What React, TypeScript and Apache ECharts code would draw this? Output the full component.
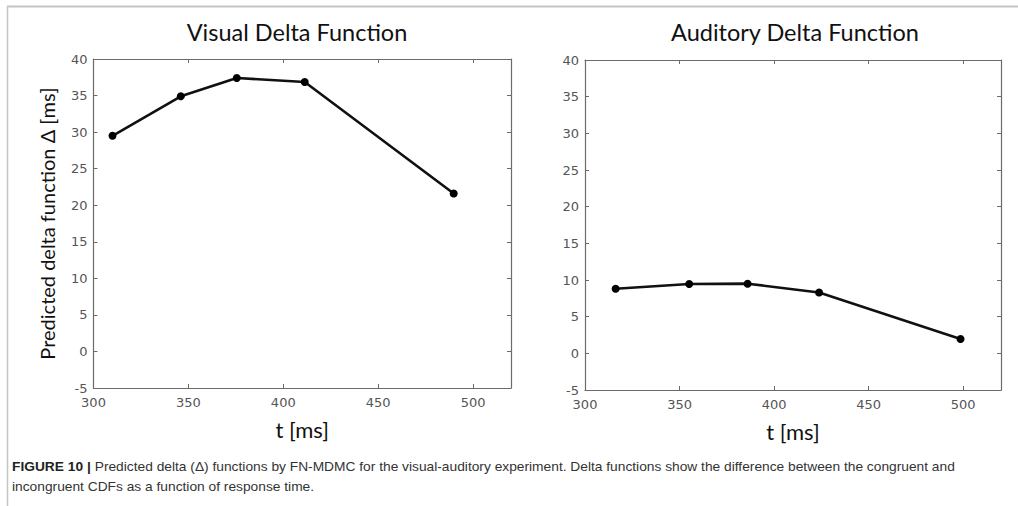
import React, { useEffect, useRef } from "react";
import * as echarts from "echarts";

// Response time (ms) and predicted delta (ms) for each modality
const visualT = [310, 346, 375.5, 411.3, 489.8];
const visualDelta = [29.5, 34.9, 37.4, 36.85, 21.6];
const auditoryT = [316.2, 355.1, 386, 423.8, 498.6];
const auditoryDelta = [8.8, 9.45, 9.5, 8.3, 1.95];

const titles = ["Visual Delta Function", "Auditory Delta Function"];
const xName = "t [ms]";
const yName = "Predicted delta function \u0394 [ms]";
const captionBold = "FIGURE 10 | ";
const captionLine1 =
  "Predicted delta (\u0394) functions by FN-MDMC for the visual-auditory experiment. Delta functions show the difference between the congruent and";
const captionLine2 = "incongruent CDFs as a function of response time.";

const X_MIN = 300;
const X_MAX = 520;
const X_STEP = 50;
const Y_MIN = -5;
const Y_MAX = 40;
const Y_STEP = 5;

const AXIS_COLOR = "#6b6b6b";
const LABEL_COLOR = "#555";
const TICK_FONT = "DejaVu Sans";
const TITLE_FONT = "Lato";
const CAPTION_FONT = "Liberation Sans";
const CAPTION_SCALE = 1.06;

function zip(xs: number[], ys: number[]) {
  return xs.map((x, i) => [x, ys[i]]);
}

export default function App() {
  const ref = useRef<HTMLDivElement>(null);

  useEffect(() => {
    if (!ref.current) return;
    const chart = echarts.init(ref.current, null, { renderer: "svg" });

    const grids = [
      { left: 93.5, top: 59, width: 417.5, height: 329 },
      { left: 585, top: 60, width: 416, height: 330 },
    ];

    const edgeLine = { show: true, onZero: false, lineStyle: { color: AXIS_COLOR, width: 1.2 } };
    const innerTick = { show: true, inside: true, length: 4, lineStyle: { color: AXIS_COLOR } };

    const xAxes: any[] = [];
    const yAxes: any[] = [];
    grids.forEach((_, gi) => {
      // bottom axis with labels
      xAxes.push({
        type: "value",
        gridIndex: gi,
        position: "bottom",
        min: X_MIN,
        max: X_MAX,
        interval: X_STEP,
        name: xName,
        nameLocation: "middle",
        nameGap: 30,
        nameTextStyle: { fontFamily: TITLE_FONT, fontSize: 22, color: "#111" },
        axisLine: edgeLine,
        axisTick: innerTick,
        axisLabel: {
          show: true,
          showMaxLabel: false,
          margin: 8,
          fontFamily: TICK_FONT,
          fontSize: 13,
          color: LABEL_COLOR,
        },
        splitLine: { show: false },
      });
      // top edge of the box
      xAxes.push({
        type: "value",
        gridIndex: gi,
        position: "top",
        min: X_MIN,
        max: X_MAX,
        interval: X_STEP,
        axisLine: edgeLine,
        axisTick: innerTick,
        axisLabel: { show: false },
        splitLine: { show: false },
      });
      // left axis with labels
      yAxes.push({
        type: "value",
        gridIndex: gi,
        position: "left",
        min: Y_MIN,
        max: Y_MAX,
        interval: Y_STEP,
        name: gi === 0 ? yName : "",
        nameLocation: "middle",
        nameGap: 37,
        nameTextStyle: { fontFamily: TITLE_FONT, fontSize: 20, color: "#111" },
        axisLine: edgeLine,
        axisTick: innerTick,
        axisLabel: {
          show: true,
          margin: 6,
          fontFamily: TICK_FONT,
          fontSize: 13,
          color: LABEL_COLOR,
        },
        splitLine: { show: false },
      });
      // right edge of the box
      yAxes.push({
        type: "value",
        gridIndex: gi,
        position: "right",
        min: Y_MIN,
        max: Y_MAX,
        interval: Y_STEP,
        axisLine: edgeLine,
        axisTick: innerTick,
        axisLabel: { show: false },
        splitLine: { show: false },
      });
    });

    const lineSeries = (data: number[][], gi: number) => ({
      type: "line",
      xAxisIndex: gi * 2,
      yAxisIndex: gi * 2,
      data,
      symbol: "circle",
      symbolSize: 8,
      lineStyle: { color: "#111", width: 2.6 },
      itemStyle: { color: "#000" },
      z: 5,
    });

    chart.setOption({
      animation: false,
      backgroundColor: "#fff",
      title: [
        {
          text: titles[0],
          left: 292,
          top: 15,
          textAlign: "center",
          textStyle: { fontFamily: TITLE_FONT, fontSize: 23.5, fontWeight: "normal", color: "#111" },
        },
        {
          text: titles[1],
          left: 790,
          top: 15,
          textAlign: "center",
          textStyle: { fontFamily: TITLE_FONT, fontSize: 23.5, fontWeight: "normal", color: "#111" },
        },
      ],
      grid: grids,
      xAxis: xAxes,
      yAxis: yAxes,
      series: [lineSeries(zip(visualT, visualDelta), 0), lineSeries(zip(auditoryT, auditoryDelta), 1)],
      graphic: [
        {
          type: "line",
          shape: { x1: 7, y1: 6.5, x2: 1018, y2: 6.5 },
          style: { stroke: "#c4c4c4", lineWidth: 2 },
        },
        {
          type: "line",
          shape: { x1: 7.5, y1: 6, x2: 7.5, y2: 506 },
          style: { stroke: "#c4c4c4", lineWidth: 1.5 },
        },
        {
          type: "text",
          x: 12,
          y: 460,
          scaleX: CAPTION_SCALE,
          style: {
            text: "{b|" + captionBold + "}{n|" + captionLine1 + "}",
            rich: {
              b: { fontFamily: CAPTION_FONT, fontSize: 13, fontWeight: "bold", fill: "#222" },
              n: { fontFamily: CAPTION_FONT, fontSize: 13, fill: "#333" },
            },
          },
        },
        {
          type: "text",
          x: 12,
          y: 480,
          scaleX: CAPTION_SCALE,
          style: {
            text: captionLine2,
            fontFamily: CAPTION_FONT,
            fontSize: 13,
            fill: "#333",
          },
        },
      ],
    });

    return () => chart.dispose();
  }, []);

  return (
    <div
      ref={ref}
      style={{ position: "absolute", left: 0, top: 0, width: 1018, height: 506 }}
    />
  );
}
